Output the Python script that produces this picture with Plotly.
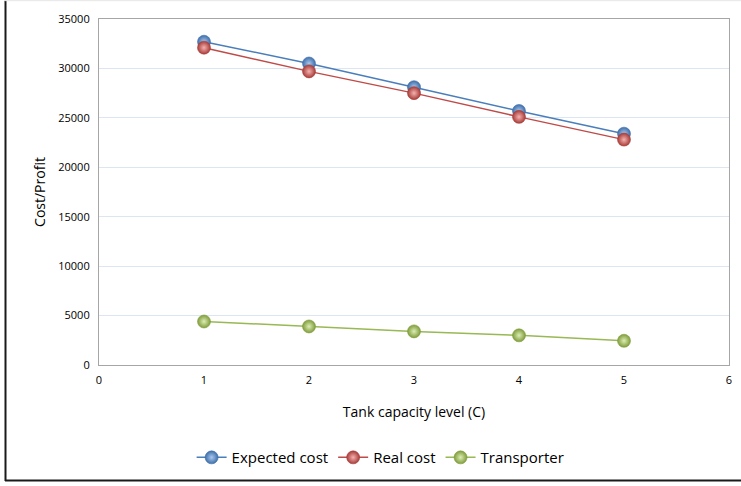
import plotly.graph_objects as go

capacity = [1, 2, 3, 4, 5]
expected_cost = [32700, 30500, 28100, 25700, 23400]
real_cost = [32100, 29700, 27500, 25100, 22800]
transporter = [4400, 3900, 3400, 3000, 2450]

x_ticks = [0, 1, 2, 3, 4, 5, 6]
y_ticks = [0, 5000, 10000, 15000, 20000, 25000, 30000, 35000]

series = [
    ("Expected cost", expected_cost, "#4A7EBB", "#A9C8EE", "#3F6FAA"),
    ("Real cost", real_cost, "#BE4B48", "#F4B2B0", "#A83C39"),
    ("Transporter", transporter, "#98B954", "#DDEDB4", "#7F9D3C"),
]

FONT = "Open Sans"
fig = go.Figure()
for name, vals, line_c, light_c, dark_c in series:
    fig.add_trace(go.Scatter(
        x=capacity, y=vals, name=name, mode="lines+markers",
        line=dict(color=line_c, width=1.5),
        marker=dict(size=13, color=dark_c,
                    gradient=dict(type="radial", color=light_c),
                    line=dict(color=dark_c, width=0.6)),
    ))

fig.update_layout(
    width=741, height=486,
    margin=dict(l=99, r=12, t=19, b=118),
    paper_bgcolor="white", plot_bgcolor="white",
    font=dict(family=FONT, size=11, color="#000000"),
    showlegend=True,
    legend=dict(orientation="h", x=0.447, xanchor="center", y=-0.22, yanchor="top",
                font=dict(family=FONT, size=15), itemwidth=30, traceorder="normal"),
    xaxis=dict(range=[0, 6], tickvals=x_ticks, ticktext=[str(v) for v in x_ticks],
               showgrid=False, zeroline=False, showline=True, linecolor="#A6A6A6",
               linewidth=1.2, mirror=True, ticks="", tickfont=dict(size=11),
               automargin=False, ticklabelstandoff=5,
               title=dict(text="Tank capacity level (C)", font=dict(size=14), standoff=20)),
    yaxis=dict(range=[0, 35000], tickvals=y_ticks, ticktext=[str(v) for v in y_ticks],
               showgrid=True, gridcolor="#DCE6F2", gridwidth=1, zeroline=False,
               showline=True, linecolor="#A6A6A6", linewidth=1.2, mirror=True, ticks="",
               tickfont=dict(size=11), automargin=False, ticklabelstandoff=6,
               title=dict(text="Cost/Profit", font=dict(size=14), standoff=9)),
)

# outer chart border
pw, ph = 630.0, 349.0
def px(x):
    return (x - 99) / pw
def py(y):
    return (368 - y) / ph
fig.add_shape(type="line", xref="paper", yref="paper", x0=px(5.5), x1=px(5.5), y0=py(0.5), y1=py(485),
              line=dict(color="#1A1A1A", width=2))
fig.add_shape(type="line", xref="paper", yref="paper", x0=px(5), x1=px(741), y0=py(484.5), y1=py(484.5),
              line=dict(color="#1A1A1A", width=2))
fig.add_shape(type="line", xref="paper", yref="paper", x0=px(5), x1=px(741), y0=py(0.5), y1=py(0.5),
              line=dict(color="#E6E6E6", width=1))

fig.write_html("out.html", config={"displayModeBar": False},
               post_script="document.body.style.margin='0';document.body.style.overflow='hidden';")
